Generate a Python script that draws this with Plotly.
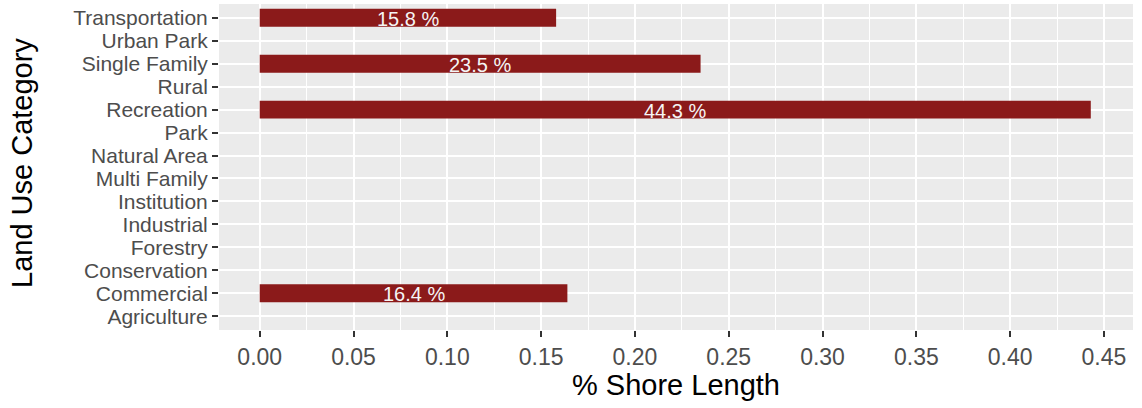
import plotly.graph_objects as go

categories = ["Agriculture", "Commercial", "Conservation", "Forestry", "Industrial",
              "Institution", "Multi Family", "Natural Area", "Park", "Recreation",
              "Rural", "Single Family", "Urban Park", "Transportation"]
shore_share = [0, 0.164, 0, 0, 0, 0, 0, 0, 0, 0.443, 0, 0.235, 0, 0.158]
x_ticks = [0.00, 0.05, 0.10, 0.15, 0.20, 0.25, 0.30, 0.35, 0.40, 0.45]

bar_color = "#8B1A1A"
font_family = "Liberation Sans, Arial, sans-serif"

fig = go.Figure()
fig.add_trace(go.Bar(
    x=shore_share, y=categories, orientation="h",
    marker=dict(color=bar_color, line=dict(width=0)),
    width=0.78, showlegend=False, hoverinfo="skip",
))

W, H = 1142, 408
ml, mr, mt, mb = 219, 9, 4, 78

annots = []
for c, v in zip(categories, shore_share):
    if v > 0:
        annots.append(dict(
            x=v / 2, y=c, xref="x", yref="y", text=f"{v*100:.1f} %",
            showarrow=False, xanchor="center", yanchor="middle", yshift=-1,
            font=dict(color="#F5F5F5", size=20, family=font_family)))

annots += [
    dict(text="% Shore Length", xref="paper", yref="paper",
         x=(676 - ml) / (W - ml - mr), y=-(385 - (H - mb)) / (H - mt - mb),
         xanchor="center", yanchor="middle", showarrow=False,
         font=dict(size=29, color="black", family=font_family)),
    dict(text="Land Use Category", xref="paper", yref="paper",
         x=-(ml - 22) / (W - ml - mr), y=((H - mb) - 163) / (H - mt - mb),
         xanchor="center", yanchor="middle", showarrow=False, textangle=-90,
         font=dict(size=29, color="black", family=font_family)),
]

fig.update_layout(
    width=W, height=H,
    margin=dict(l=ml, r=mr, t=mt, b=mb, autoexpand=False),
    paper_bgcolor="white", plot_bgcolor="#EBEBEB",
    font=dict(family=font_family),
    xaxis=dict(
        range=[-0.0217, 0.4655], tickmode="array", tickvals=x_ticks,
        ticktext=[f"{t:.2f}" for t in x_ticks],
        showgrid=True, gridcolor="white", gridwidth=2,
        minor=dict(tickmode="linear", dtick=0.025, tick0=0.025, showgrid=True,
                   gridcolor="white", gridwidth=1.3),
        zeroline=False, ticks="outside", ticklen=6, tickwidth=2, tickcolor="#333333",
        tickfont=dict(size=23, color="#4D4D4D"),
        automargin=False, showline=False,
    ),
    yaxis=dict(
        type="category", categoryorder="array", categoryarray=categories,
        tickmode="array", tickvals=categories, ticktext=categories,
        range=[-0.6, 13.6],
        showgrid=True, gridcolor="white", gridwidth=2,
        zeroline=False, ticks="outside", ticklen=6, tickwidth=2, tickcolor="#333333",
        tickfont=dict(size=21, color="#4D4D4D"),
        automargin=False, showline=False,
    ),
    annotations=annots,
)

fig.write_html("out.html", config={"displayModeBar": False},
               post_script="document.body.style.margin='0';document.body.style.overflow='hidden';")
